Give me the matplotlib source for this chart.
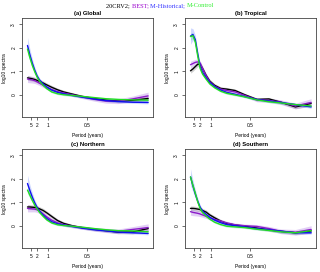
import numpy as np
import matplotlib
matplotlib.use("Agg")
import matplotlib.pyplot as plt

# normalized frequency grid (x axis position of spectral estimates)
freq = [0, 0.02, 0.04, 0.06, 0.08, 0.10, 0.13, 0.16, 0.20, 0.25, 0.30, 0.37, 0.45, 0.55, 0.65, 0.75, 0.87, 1.0]
tick_pos = [0.03, 0.08, 0.166, 0.497]
tick_labels = ["5", "2", "1", "0.5"]
y_ticks = [0, 1, 2, 3]

panels = ["(a) Global", "(b) Tropical", "(c) Northern", "(d) Southern"]

# log10 spectra, per panel: 20CRV2 (black), BEST (purple), M-Historical (blue), M-Control (green)
a_black  = [0.72, 0.70, 0.68, 0.65, 0.61, 0.57, 0.50, 0.42, 0.32, 0.21, 0.12, 0.03, -0.07, -0.16, -0.23, -0.27, -0.24, -0.16]
a_purple = [0.67, 0.65, 0.63, 0.60, 0.55, 0.49, 0.40, 0.31, 0.22, 0.13, 0.07, 0.00, -0.09, -0.19, -0.27, -0.28, -0.18, -0.05]
a_blue   = [2.10, 1.70, 1.35, 1.05, 0.80, 0.63, 0.46, 0.33, 0.20, 0.10, 0.04, -0.03, -0.10, -0.18, -0.25, -0.29, -0.32, -0.33]
a_green  = [1.95, 1.58, 1.25, 0.98, 0.75, 0.58, 0.40, 0.26, 0.12, 0.04, 0.00, -0.03, -0.07, -0.12, -0.17, -0.20, -0.22, -0.23]

b_black  = [1.02, 1.10, 1.20, 1.30, 1.30, 1.12, 0.82, 0.58, 0.40, 0.27, 0.24, 0.18, 0.00, -0.20, -0.18, -0.32, -0.52, -0.37]
b_purple = [1.28, 1.33, 1.38, 1.40, 1.35, 1.12, 0.80, 0.55, 0.36, 0.24, 0.18, 0.12, -0.03, -0.22, -0.24, -0.32, -0.48, -0.33]
b_blue   = [2.50, 2.57, 2.35, 1.75, 1.20, 0.95, 0.72, 0.52, 0.35, 0.20, 0.10, 0.02, -0.08, -0.20, -0.27, -0.33, -0.42, -0.52]
b_green  = [2.48, 2.52, 2.25, 1.65, 1.12, 0.88, 0.66, 0.46, 0.30, 0.15, 0.06, -0.01, -0.09, -0.22, -0.30, -0.35, -0.42, -0.48]

c_black  = [0.80, 0.80, 0.79, 0.78, 0.76, 0.72, 0.65, 0.55, 0.40, 0.22, 0.10, 0.00, -0.08, -0.15, -0.21, -0.27, -0.27, -0.12]
c_purple = [0.74, 0.73, 0.72, 0.71, 0.68, 0.62, 0.50, 0.38, 0.24, 0.12, 0.05, -0.02, -0.08, -0.15, -0.20, -0.24, -0.16, -0.08]
c_blue   = [1.80, 1.50, 1.22, 0.98, 0.78, 0.62, 0.45, 0.31, 0.17, 0.08, 0.03, -0.03, -0.10, -0.17, -0.22, -0.27, -0.30, -0.33]
c_green  = [1.52, 1.30, 1.08, 0.88, 0.72, 0.57, 0.40, 0.25, 0.12, 0.04, 0.01, -0.02, -0.06, -0.12, -0.17, -0.21, -0.22, -0.26]

d_black  = [0.74, 0.74, 0.73, 0.71, 0.69, 0.65, 0.58, 0.46, 0.34, 0.20, 0.10, 0.03, -0.02, -0.10, -0.18, -0.24, -0.30, -0.22]
d_purple = [0.60, 0.57, 0.55, 0.53, 0.50, 0.46, 0.40, 0.33, 0.27, 0.20, 0.12, 0.04, 0.00, -0.03, -0.12, -0.24, -0.28, -0.16]
d_blue   = [2.08, 1.70, 1.35, 1.05, 0.79, 0.63, 0.48, 0.36, 0.24, 0.13, 0.05, 0.00, -0.05, -0.12, -0.17, -0.23, -0.30, -0.30]
d_green  = [2.08, 1.72, 1.38, 1.02, 0.73, 0.56, 0.41, 0.28, 0.15, 0.05, -0.02, -0.05, -0.08, -0.15, -0.20, -0.26, -0.30, -0.21]

# uncertainty half-widths (same order)
hw_black  = [0.10, 0.10, 0.10, 0.10, 0.10, 0.09, 0.09, 0.08, 0.08, 0.07, 0.07, 0.06, 0.06, 0.06, 0.06, 0.07, 0.08, 0.10]
hw_purple = [0.15, 0.14, 0.13, 0.12, 0.11, 0.10, 0.09, 0.08, 0.08, 0.07, 0.07, 0.07, 0.07, 0.08, 0.09, 0.10, 0.12, 0.16]
hw_blue   = [0.35, 0.25, 0.18, 0.13, 0.10, 0.08, 0.06, 0.05, 0.05, 0.04, 0.04, 0.04, 0.04, 0.04, 0.04, 0.05, 0.05, 0.06]
hw_green  = [0.15, 0.12, 0.10, 0.08, 0.06, 0.05, 0.05, 0.04, 0.04, 0.04, 0.04, 0.04, 0.04, 0.04, 0.04, 0.05, 0.05, 0.06]

series = {
    "(a) Global":   [a_black, a_purple, a_blue, a_green],
    "(b) Tropical": [b_black, b_purple, b_blue, b_green],
    "(c) Northern": [c_black, c_purple, c_blue, c_green],
    "(d) Southern": [d_black, d_purple, d_blue, d_green],
}
halfwidths = [hw_black, hw_purple, hw_blue, hw_green]
line_colors = ["#000000", "#8A1BC8", "#1010F0", "#22DD22"]
band_colors = ["#808080", "#A060E0", "#6080FF", "#40D0A0"]
band_alpha = [0.35, 0.3, 0.3, 0.3]

W, H = 320, 272
fig = plt.figure(figsize=(W / 100, H / 100), dpi=100)

boxes = {
    "(a) Global":   (22.3, 18.3),
    "(b) Tropical": (185.3, 18.3),
    "(c) Northern": (22.3, 149.3),
    "(d) Southern": (185.3, 149.3),
}
bw, bh = 131.0, 98.7
sans = "Liberation Sans"
small = 3.5

for name in panels:
    x0, ytop = boxes[name]
    ax = fig.add_axes([x0 / W, (H - ytop - bh) / H, bw / W, bh / H])
    x = np.array(freq)
    for vals, hw, bc, al in zip(series[name], halfwidths, band_colors, band_alpha):
        v = np.array(vals); h = np.array(hw)
        ax.fill_between(x, v - h, v + h, color=bc, alpha=al, lw=0)
    for vals, lc in zip(series[name], line_colors):
        ax.plot(x, vals, color=lc, lw=1.0, solid_capstyle="round", solid_joinstyle="round")
    ax.set_xlim(-0.043, 1.043)
    ax.set_ylim(-0.95, 3.26)
    ax.set_xticks(tick_pos)
    ax.set_xticklabels(tick_labels, fontsize=small, family=sans)
    ax.set_yticks(y_ticks)
    ax.set_yticklabels([str(t) for t in y_ticks], fontsize=small, family=sans,
                       rotation=90, va="center")
    ax.tick_params(length=2.0, width=0.5, pad=2.3, color="#333333")
    for s in ax.spines.values():
        s.set_linewidth(0.6)
        s.set_color("#444444")
    ax.text(0.5, 1 + 4.6 / bh, name, transform=ax.transAxes, ha="center", va="center",
            fontsize=4.2, fontweight="bold", family=sans)
    ax.text(0.5, -18.5 / bh, "Period (years)", transform=ax.transAxes, ha="center",
            va="center", fontsize=small, family=sans)
    ax.text(-17.3 / bw, 0.5, "log10 spectra", transform=ax.transAxes, ha="center",
            va="center", rotation=90, fontsize=small, family=sans)

# coloured overall title
parts = [("20CRV2; ", "#000000"), ("BEST; ", "#9900CC"),
         ("M-Historical; ", "#3333FF"), ("M-Control", "#33EE33")]
serif = "Liberation Serif"
fs = 4.6
renderer = fig.canvas.get_renderer()

def text_width(s):
    t = fig.text(0, 0, s + "x", fontsize=fs, family=serif)
    w1 = t.get_window_extent(renderer).width
    t.remove()
    t = fig.text(0, 0, "x", fontsize=fs, family=serif)
    w2 = t.get_window_extent(renderer).width
    t.remove()
    return w1 - w2

full = "".join(p[0] for p in parts)
total = text_width(full)
start = (W - total) / 2
prefix = ""
for txt, col in parts:
    off = text_width(prefix) if prefix else 0.0
    fig.text((start + off) / W, 1 - 5.3 / H, txt, fontsize=fs, family=serif, color=col,
             ha="left", va="center")
    prefix += txt

fig.savefig("out.png", dpi=100)
